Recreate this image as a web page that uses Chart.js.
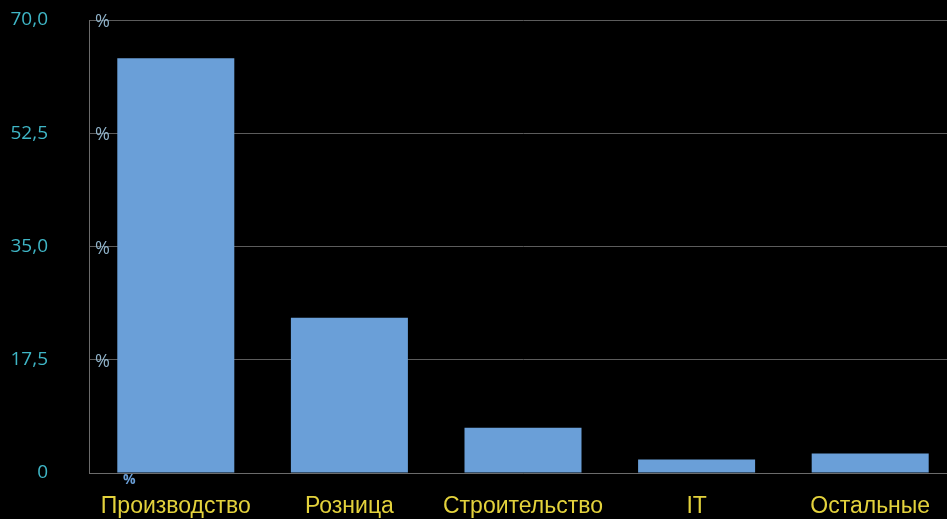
<!DOCTYPE html>
<html>
<head>
<meta charset="utf-8">
<script src="https://cdn.jsdelivr.net/npm/chart.js@4.4.1/dist/chart.umd.min.js"></script>
<style>
    html, body { margin: 0; padding: 0; background: #000; overflow: hidden; }
    #chart { display: block; }
</style>
</head>
<body>
<canvas id="chart" width="957" height="519"></canvas>
<script>
// Sectors and their share, %
const categories = ['Производство', 'Розница', 'Строительство', 'IT', 'Остальные'];
const shares = [64.1, 24.0, 7.0, 2.1, 3.0];
const tickValues = [0, 17.5, 35, 52.5, 70];
const tickLabels = ['0', '17,5', '35,0', '52,5', '70,0'];

// Draws the small "%" marks next to the axis for every tick
const percentMarks = {
    id: 'percentMarks',
    afterDraw(chart) {
        const { ctx, scales: { y } } = chart;
        ctx.save();
        ctx.textBaseline = 'middle';
        ctx.textAlign = 'left';
        tickValues.forEach(v => {
            const py = y.getPixelForValue(v);
            if (v === 0) {
                ctx.fillStyle = '#6a9fd8';
                ctx.font = 'bold 14px "Open Sans", sans-serif';
                ctx.fillText('%', y.right + 34, py + 7);
            } else {
                ctx.fillStyle = '#8fb2c9';
                ctx.font = '18px "Open Sans", sans-serif';
                ctx.fillText('%', y.right + 6, py + 2);
            }
        });
        ctx.restore();
    }
};

const ctx = document.getElementById('chart').getContext('2d');
new Chart(ctx, {
    type: 'bar',
    data: {
        labels: categories,
        datasets: [{
            data: shares,
            backgroundColor: '#6a9fd8',
            borderWidth: 0,
            barPercentage: 0.674,
            categoryPercentage: 1
        }]
    },
    options: {
        responsive: false,
        animation: false,
        layout: { padding: { top: 20, right: 0, bottom: 0, left: 0 } },
        plugins: {
            legend: { display: false },
            tooltip: { enabled: false }
        },
        scales: {
            x: {
                grid: { display: false, drawTicks: false },
                border: { color: '#6b6b6b', width: 1 },
                ticks: {
                    color: '#e3d23c',
                    font: { family: '"Liberation Sans Narrow", "Arial Narrow", "Liberation Sans", sans-serif', size: 23 },
                    padding: 20,
                    maxRotation: 0,
                    autoSkip: false
                },
                afterFit(scale) {
                    scale.height = 46;
                    scale.paddingLeft = 0;
                    scale.paddingRight = 0;
                }
            },
            y: {
                min: 0,
                max: 70,
                afterBuildTicks(scale) {
                    scale.ticks = tickValues.map(v => ({ value: v }));
                },
                grid: { color: '#5c5c5c', lineWidth: 1, drawTicks: false },
                border: { color: '#6b6b6b', width: 1 },
                ticks: {
                    color: '#3fb6c6',
                    font: { family: '"Open Sans", sans-serif', size: 19 },
                    padding: 41,
                    callback: (value) => tickLabels[tickValues.indexOf(value)]
                },
                afterFit(scale) {
                    scale.width = 89;
                    scale.paddingTop = 0;
                    scale.paddingBottom = 0;
                }
            }
        }
    },
    plugins: [percentMarks]
});
</script>
</body>
</html>
